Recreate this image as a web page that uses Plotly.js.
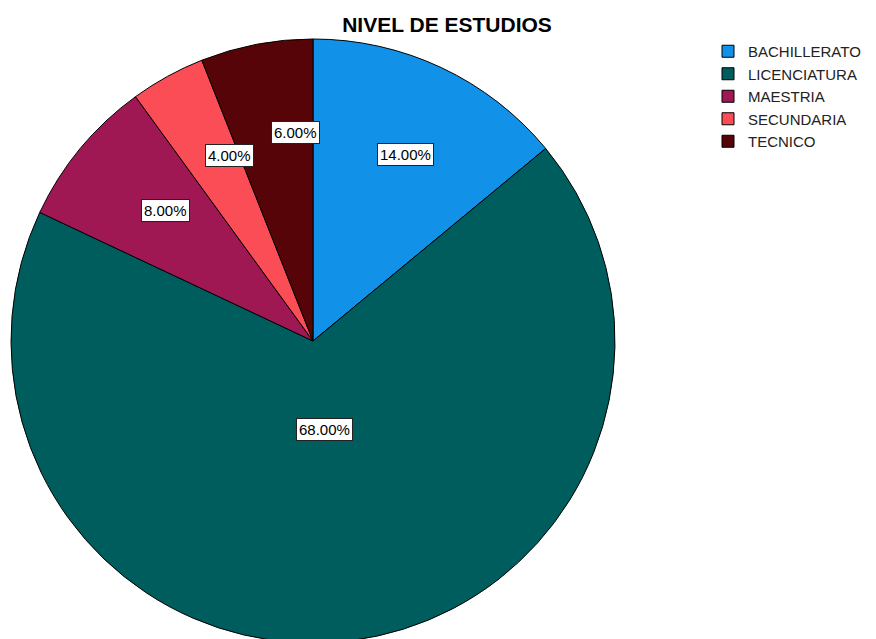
<!DOCTYPE html>
<html>
<head>
<meta charset="utf-8">
<script src="https://cdn.plot.ly/plotly-3.0.1.min.js"></script>
<style>
html, body { margin: 0; padding: 0; overflow: hidden; background: #ffffff; }
#chart { width: 876px; height: 660px; }
</style>
</head>
<body>
<div id="chart"></div>
<script>
// Data
const categories = ["BACHILLERATO", "LICENCIATURA", "MAESTRIA", "SECUNDARIA", "TECNICO"];
const percentages = [14, 68, 8, 4, 6];
const colors = ["#1192e8", "#005d5d", "#9f1853", "#fa4d56", "#570408"];
const chartTitle = "NIVEL DE ESTUDIOS";

// Layout geometry (pixels)
const W = 876, H = 660;
const pieCx = 313, pieCy = 341, pieR = 302;
const labelScale = 1.12;

const domainX = [(pieCx - pieR) / W, (pieCx + pieR) / W];
const domainY = [1 - (pieCy + pieR) / H, 1 - (pieCy - pieR) / H];

// Labels placed near each sector's centroid
const total = percentages.reduce((a, b) => a + b, 0);
let cum = 0;
const annotations = percentages.map((v, i) => {
  const alpha = v / total * 2 * Math.PI;
  const mid = (cum + v / 2) / total * 2 * Math.PI;
  cum += v;
  const d = labelScale * 4 * pieR * Math.sin(alpha / 2) / (3 * alpha);
  const px = pieCx + d * Math.sin(mid);
  const py = pieCy - d * Math.cos(mid);
  return {
    x: px / W, y: 1 - py / H, xref: "paper", yref: "paper",
    text: (v / total * 100).toFixed(2) + "%",
    showarrow: false,
    font: { family: "Liberation Sans, Arial, sans-serif", size: 15, color: "#000000" },
    bgcolor: "#ffffff", bordercolor: "#222222", borderwidth: 1, borderpad: 2
  };
});

const trace = {
  type: "pie",
  labels: categories,
  values: percentages,
  sort: false,
  direction: "clockwise",
  rotation: 0,
  textinfo: "none",
  hoverinfo: "label+percent",
  marker: { colors: colors, line: { color: "#000000", width: 1 } },
  domain: { x: domainX, y: domainY }
};

const layout = {
  width: W, height: H,
  margin: { l: 0, r: 0, t: 0, b: 0 },
  paper_bgcolor: "#ffffff",
  title: {
    text: "<b>" + chartTitle + "</b>",
    x: 447 / W, xanchor: "center", xref: "paper",
    y: 1 - 25 / H, yanchor: "middle", yref: "container",
    font: { family: "Liberation Sans, Arial, sans-serif", size: 21, color: "#000000" }
  },
  showlegend: true,
  legend: {
    x: 708 / W, y: 1 - 35 / H, xanchor: "left", yanchor: "top",
    font: { family: "Liberation Sans, Arial, sans-serif", size: 15, color: "#222222" },
    itemwidth: 30, traceorder: "normal", bgcolor: "rgba(0,0,0,0)"
  },
  annotations: annotations
};

Plotly.newPlot("chart", [trace], layout, { displayModeBar: false, staticPlot: true });
</script>
</body>
</html>
